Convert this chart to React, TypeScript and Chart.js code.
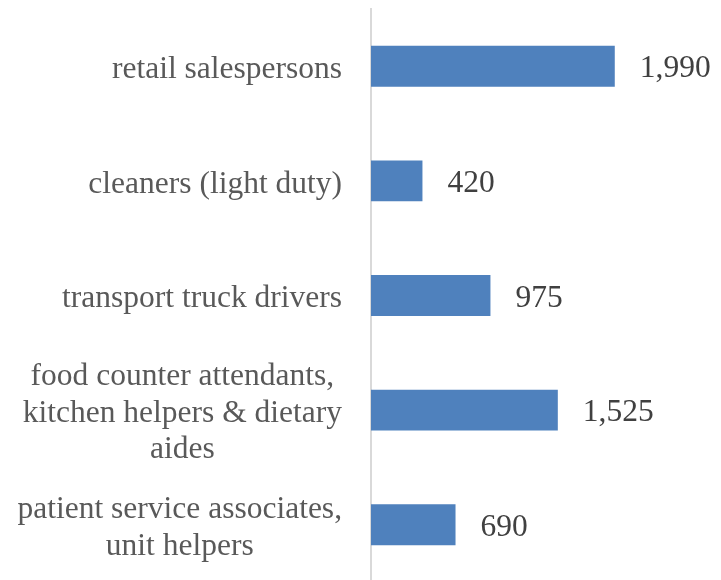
import React, { useEffect, useRef } from "react";
import { Chart, registerables } from "chart.js";

Chart.register(...registerables);

const categories: string[][] = [
  ["retail salespersons"],
  ["cleaners (light duty)"],
  ["transport truck drivers"],
  ["food counter attendants,", "kitchen helpers & dietary", "aides"],
  ["patient service associates,", "unit helpers"],
];
const values: number[] = [1990, 420, 975, 1525, 690];
const valueLabels: string[] = ["1,990", "420", "975", "1,525", "690"];

const FONT = '"Liberation Serif", "Times New Roman", serif';

const labelPlugin = {
  id: "customLabels",
  afterDraw(chart: any) {
    const ctx = chart.ctx as CanvasRenderingContext2D;
    const yScale = chart.scales.y;
    const meta = chart.getDatasetMeta(0);
    ctx.save();
    ctx.font = `31.5px ${FONT}`;
    ctx.fillStyle = "#595959";
    ctx.textAlign = "center";
    ctx.textBaseline = "alphabetic";
    const rightEdge = 342;
    const lineH = 36.5;
    categories.forEach((lines, i) => {
      const cy = yScale.getPixelForTick(i);
      const maxW = Math.max(...lines.map((l) => ctx.measureText(l).width));
      const cx = rightEdge - maxW / 2;
      lines.forEach((line, j) => {
        const y = cy + 11.8 + (j - (lines.length - 1) / 2) * lineH;
        ctx.fillText(line, cx, y);
      });
    });
    ctx.font = `31.5px ${FONT}`;
    ctx.fillStyle = "#404040";
    ctx.textAlign = "left";
    meta.data.forEach((bar: any, i: number) => {
      ctx.fillText(valueLabels[i], bar.x + 25, bar.y + 11);
    });
    ctx.restore();
  },
};

export default function App() {
  const ref = useRef<HTMLCanvasElement>(null);
  useEffect(() => {
    if (!ref.current) return;
    const chart = new Chart(ref.current, {
      type: "bar",
      data: {
        labels: categories,
        datasets: [
          {
            data: values,
            backgroundColor: "#4F81BD",
            borderWidth: 0,
            categoryPercentage: 1,
            barPercentage: 0.357,
          },
        ],
      },
      options: {
        indexAxis: "y",
        animation: false,
        responsive: false,
        maintainAspectRatio: false,
        layout: { padding: { left: 363, right: 7, top: 9, bottom: 8 } },
        plugins: {
          legend: { display: false },
          tooltip: { enabled: false },
        },
        scales: {
          x: { display: false, min: 0, max: 2800 },
          y: {
            display: true,
            ticks: { display: false },
            grid: { display: false },
            border: { display: true, color: "#d9d9d9", width: 2 },
          },
        },
      },
      plugins: [labelPlugin],
    });
    return () => chart.destroy();
  }, []);
  return (
    <div style={{ position: "fixed", left: 0, top: 0, width: 721, height: 590, background: "#fff" }}>
      <canvas ref={ref} width={721} height={590} style={{ width: 721, height: 590 }} />
    </div>
  );
}
